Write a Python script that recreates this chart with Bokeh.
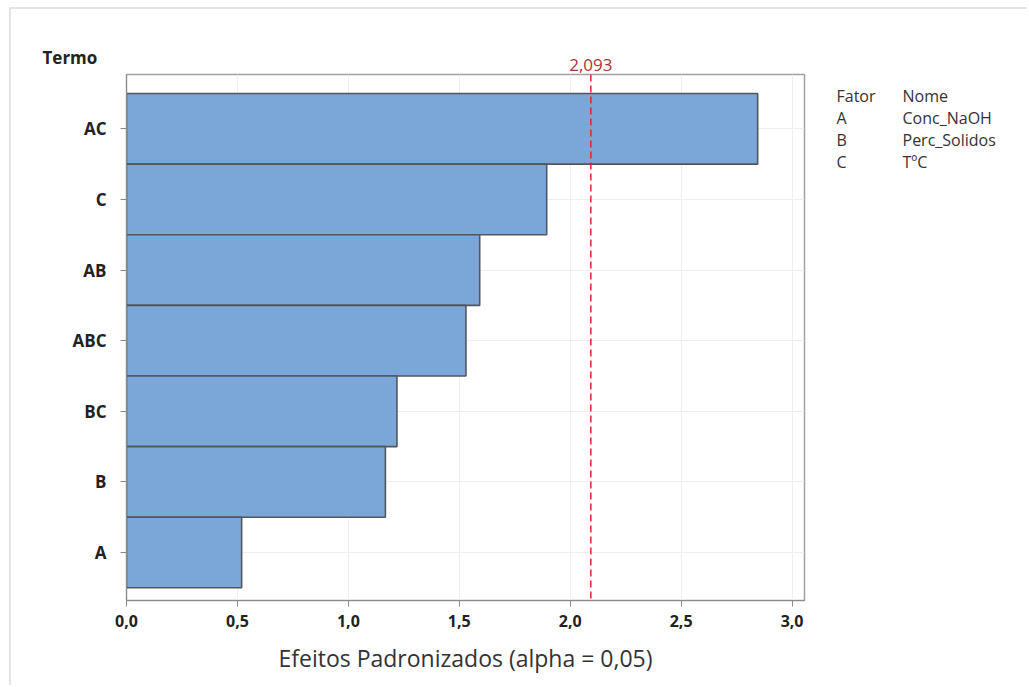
from bokeh.plotting import figure
from bokeh.models import FixedTicker, Span, CustomJSTickFormatter, Range1d
from bokeh.core.properties import value
from bokeh.embed import file_html
from bokeh.resources import INLINE

# ---- data ----
terms = ["AC", "C", "AB", "ABC", "BC", "B", "A"]          # top to bottom
effects = [2.845, 1.894, 1.592, 1.530, 1.219, 1.167, 0.519]
critical_value = 2.093
critical_label = "2,093"
x_ticks = [0.0, 0.5, 1.0, 1.5, 2.0, 2.5, 3.0]
factor_header = ["Fator", "Nome"]
factor_letters = ["A", "B", "C"]
factor_names = ["Conc_NaOH", "Perc_Solidos", "TºC"]
x_title = "Efeitos Padronizados (alpha = 0,05)"
y_title = "Termo"

FONT = "Open Sans"
n = len(terms)
ypos = [n - i for i in range(n)]

OX, OY = 11, 9   # canvas origin on the page
FL, FR, FT, FB = 126, 804, 74, 600  # frame edges on the page
p = figure(width=1018, height=678, output_backend="svg", toolbar_location=None,
           x_range=Range1d(0, 3.056), y_range=Range1d(0.32, 7.77),
           min_border_left=FL - OX, min_border_right=1018 - (FR - OX),
           min_border_top=FT - OY, min_border_bottom=678 - (FB - OY))
p.styles = {"margin-left": "9px", "margin-top": "7px",
            "border-left": "2px solid #e4e4e4", "border-top": "2px solid #e4e4e4"}

p.hbar(y=ypos, right=effects, left=0, height=1.0, fill_color="#7ba6d8",
       line_color="#52575e", line_width=1.6)

p.add_layout(Span(location=critical_value, dimension="height", line_color="#e3242b",
                  line_dash="7 4", line_width=1.5))

# axes
p.xaxis.ticker = FixedTicker(ticks=x_ticks)
p.xaxis.formatter = CustomJSTickFormatter(code="return tick.toFixed(1).replace('.', ',');")
p.yaxis.ticker = FixedTicker(ticks=ypos)
p.yaxis.major_label_overrides = {y: t for y, t in zip(ypos, terms)}
for ax in (p.xaxis, p.yaxis):
    ax.axis_line_color = "#8a8a8a"
    ax.major_tick_line_color = "#8a8a8a"
    ax.major_tick_out = 6
    ax.major_tick_in = 0
    ax.minor_tick_line_color = None
    ax.major_label_text_font = FONT
    ax.major_label_text_color = "#222222"
p.yaxis.major_label_text_font_size = "17px"
p.yaxis.major_label_text_font_style = "bold"
p.yaxis.major_label_standoff = 14
p.xaxis.major_label_text_font_size = "16px"
p.xaxis.major_label_text_font_style = "bold"
p.xaxis.major_label_standoff = 8
p.xaxis.axis_label = x_title
p.xaxis.axis_label_text_font = FONT
p.xaxis.axis_label_text_font_size = "23px"
p.xaxis.axis_label_text_font_style = "normal"
p.xaxis.axis_label_text_color = "#333333"
p.xaxis.axis_label_standoff = 12

p.xgrid.ticker = FixedTicker(ticks=x_ticks)
p.xgrid.grid_line_color = "#eeeeee"
p.ygrid.ticker = FixedTicker(ticks=ypos)
p.ygrid.grid_line_color = "#eeeeee"
p.outline_line_color = "#a0a0a0"
p.outline_line_width = 1.5

# ---- transparent overlay (page pixel coordinates) for texts outside the plot frame ----
W, H = 1020, 680
ov = figure(width=W, height=H, output_backend="svg", toolbar_location=None,
            x_range=Range1d(0, W), y_range=Range1d(H, 0), x_axis_type=None, y_axis_type=None,
            min_border=0)
ov.styles = {"position": "absolute", "left": "0px", "top": "0px", "pointer-events": "none"}
ov.grid.visible = False
ov.outline_line_color = None
ov.background_fill_alpha = 0
ov.border_fill_alpha = 0

# critical value label above the dashed line (x mapped via the main plot's scale)
sx_crit = FL + (critical_value - p.x_range.start) / (p.x_range.end - p.x_range.start) * (FR - FL)
ov.text(x=[sx_crit], y=[64], text=[critical_label], text_font=value(FONT), text_font_size="17px",
        text_color="#a8343a", text_align="center", text_baseline="middle")
ov.text(x=[42], y=[57], text=[y_title], text_font=value(FONT), text_font_size="17px",
        text_font_style="bold", text_color="#222222", text_align="left", text_baseline="middle")

col1 = [factor_header[0]] + factor_letters
col2 = [factor_header[1]] + factor_names
rows_y = [95 + 22 * i for i in range(len(col1))]
ov.text(x=[836] * len(col1), y=rows_y, text=col1, text_font=value(FONT), text_font_size="16px",
        text_color="#333333", text_align="left", text_baseline="middle")
ov.text(x=[902] * len(col2), y=rows_y, text=col2, text_font=value(FONT), text_font_size="16px",
        text_color="#333333", text_align="left", text_baseline="middle")

open("out.html", "w").write(file_html([p, ov], INLINE))
